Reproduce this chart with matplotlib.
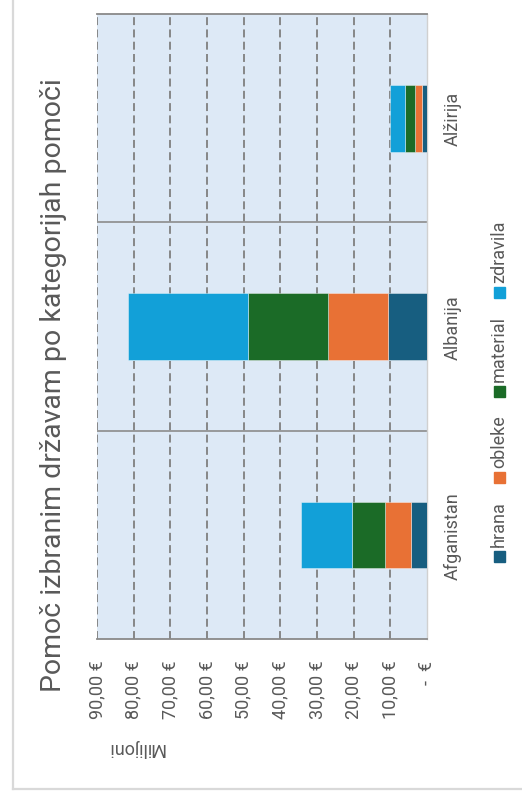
import matplotlib
matplotlib.use('Agg')
import matplotlib.pyplot as plt
from matplotlib.patches import Rectangle
from matplotlib.lines import Line2D

plt.rcParams['font.family'] = ['Roboto', 'DejaVu Sans']

# data (milijoni EUR)
countries = ['Afganistan', 'Albanija', 'Alžirija']
categories = ['hrana', 'obleke', 'material', 'zdravila']
hrana = [4.4, 10.6, 1.3]
obleke = [7.0, 16.5, 2.1]
material = [9.1, 21.8, 2.6]
zdravila = [13.8, 32.7, 4.2]
series = [hrana, obleke, material, zdravila]
colors = ['#175e80', '#e87135', '#1b6b27', '#12a0d8']
ticks = [0, 10, 20, 30, 40, 50, 60, 70, 80, 90]
tick_labels = ['-  €'] + [f'{t},00 €' for t in ticks[1:]]
title = 'Pomoč izbranim državam po kategorijah pomoči'
axis_title = 'Milijoni'

W, H = 522, 804
GREY = '#595959'
FS = 13

fig = plt.figure(figsize=(W / 100, H / 100), dpi=100)
fig.patch.set_facecolor('white')

# frame around the whole chart
fig.add_artist(Line2D([13 / W, 13 / W], [1, 1 - 790 / H], color='#d9d9d9', lw=1.6))
fig.add_artist(Line2D([13 / W, 1], [1 - 790 / H, 1 - 790 / H], color='#d9d9d9', lw=1.6))

ax = fig.add_axes([97 / W, 1 - 640 / H, 330 / W, 625 / H])
ax.set_facecolor('#dde9f6')

ypos = list(range(len(countries)))
left = [0.0] * len(countries)
for vals, col in zip(series, colors):
    ax.barh(ypos, vals, left=left, height=0.32, color=col,
            edgecolor=(1, 1, 1, 0.45), linewidth=0.6, zorder=3)
    left = [l + v for l, v in zip(left, vals)]

ax.set_xlim(0, 90)
ax.invert_xaxis()
ax.set_ylim(-0.5, len(countries) - 0.5)

# dashed value gridlines, solid separators between categories
for t in ticks[1:]:
    ax.axvline(t, color='#7f7f7f', lw=1.3, dashes=(4.4, 2.4), zorder=1)
for b in [0.5, 1.5]:
    ax.axhline(b, color='#8c8c8c', lw=1.2, zorder=1)

for side in ['top', 'bottom']:
    ax.spines[side].set_color('#898989')
    ax.spines[side].set_linewidth(1.3)
ax.spines['left'].set_visible(False)
ax.spines['right'].set_color('#d0d0d0')
ax.spines['right'].set_linewidth(1.0)

ax.set_xticks(ticks)
ax.set_xticklabels(tick_labels, rotation=90, color=GREY, fontsize=FS)
ax.tick_params(axis='x', length=0, pad=15)

ax.yaxis.tick_right()
ax.set_yticks(ypos)
ax.set_yticklabels(countries, rotation=90, va='center', ha='left',
                   color=GREY, fontsize=FS)
ax.tick_params(axis='y', length=0, pad=12)

fig.text(136 / W, 1 - 748 / H, axis_title, rotation=180, ha='center',
         va='center', color=GREY, fontsize=FS)
fig.text(54 / W, 1 - 385 / H, title, rotation=90, ha='center', va='center',
         color=GREY, fontsize=20.5)

# legend, laid out bottom-to-top along the right edge
fig.canvas.draw()
renderer = fig.canvas.get_renderer()
cursor = H - 563
sq = 11
cx = 499
for name, col in zip(categories, colors):
    fig.add_artist(Rectangle(((cx - sq / 2) / W, cursor / H), sq / W, sq / H,
                             transform=fig.transFigure, color=col))
    cursor += sq + 5
    txt = fig.text(cx / W, cursor / H, name, rotation=90, ha='center',
                   va='bottom', color=GREY, fontsize=FS)
    ext = txt.get_window_extent(renderer)
    cursor = ext.y1 + 17

fig.savefig('out.png', dpi=100)
